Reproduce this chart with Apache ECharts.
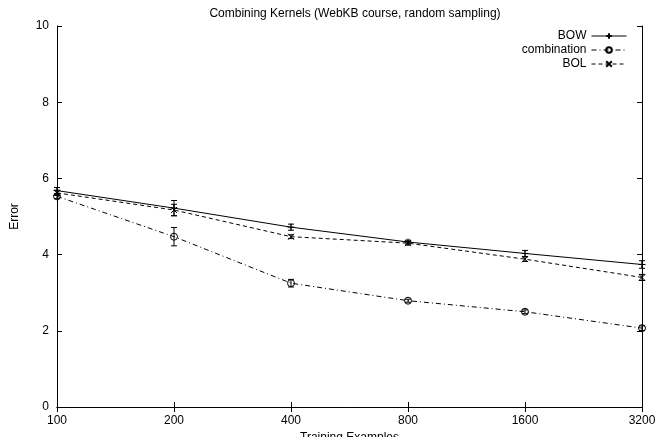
<!DOCTYPE html>
<html>
<head>
<meta charset="utf-8">
<script src="https://cdn.jsdelivr.net/npm/echarts@6/dist/echarts.min.js"></script>
<style>
html,body{margin:0;padding:0;background:#fff;}
#chart{width:656px;height:437px;}
</style>
</head>
<body>
<div id="chart"></div>
<script>
var categories = ['100', '200', '400', '800', '1600', '3200'];
var bow = [5.68, 5.22, 4.72, 4.33, 4.03, 3.74];
var bowErr = [0.08, 0.2, 0.08, 0.05, 0.08, 0.1];
var combination = [5.53, 4.47, 3.25, 2.79, 2.50, 2.07];
var combErr = [0.06, 0.24, 0.1, 0.04, 0.05, 0.06];
var bol = [5.62, 5.17, 4.47, 4.30, 3.88, 3.40];
var bolErr = [0.07, 0.15, 0.05, 0.05, 0.06, 0.08];
var yTicks = [0, 2, 4, 6, 8, 10];

var FONT = 'Liberation Sans, Arial, sans-serif';
var FS = 12;
var chart = echarts.init(document.getElementById('chart'), null, {renderer: 'canvas'});

function errData(vals, errs) {
  return vals.map(function (v, i) { return [i, v - errs[i], v + errs[i]]; });
}
function errSeries(name, vals, errs) {
  return {
    name: name,
    type: 'custom',
    silent: true,
    z: 3,
    renderItem: function (params, api) {
      var lo = api.coord([api.value(0), api.value(1)]);
      var hi = api.coord([api.value(0), api.value(2)]);
      var w = 3;
      var st = {stroke: '#000', lineWidth: 1, fill: null};
      return {
        type: 'group',
        children: [
          {type: 'line', shape: {x1: lo[0], y1: lo[1], x2: hi[0], y2: hi[1]}, style: st},
          {type: 'line', shape: {x1: lo[0] - w, y1: lo[1], x2: lo[0] + w, y2: lo[1]}, style: st},
          {type: 'line', shape: {x1: hi[0] - w, y1: hi[1], x2: hi[0] + w, y2: hi[1]}, style: st}
        ]
      };
    },
    data: errData(vals, errs)
  };
}

var plusPath = 'path://M0 5L10 5M5 0L5 10';
var crossPath = 'path://M0 0L10 10M10 0L0 10';

var option = {
  animation: false,
  backgroundColor: '#fff',
  title: {
    text: 'Combining Kernels (WebKB course, random sampling)',
    left: 350, top: 3, textAlign: 'center',
    textStyle: {fontFamily: FONT, fontSize: FS, fontWeight: 'normal', color: '#000'}
  },
  legend: {
    orient: 'vertical',
    right: 24, top: 24,
    align: 'right',
    itemWidth: 35, itemHeight: 7, itemGap: 0,
    data: ['BOW', 'combination', 'BOL'],
    lineStyle: {width: 1},
    textStyle: {fontFamily: FONT, fontSize: FS, color: '#000', lineHeight: 14}
  },
  grid: {left: 57, right: 14, top: 26, bottom: 30, containLabel: false, outerBoundsMode: 'none'},
  xAxis: [{
    type: 'category', data: categories, boundaryGap: false, position: 'bottom',
    name: 'Training Examples', nameLocation: 'middle', nameGap: 20,
    nameTextStyle: {fontFamily: FONT, fontSize: FS, color: '#000'},
    axisLine: {lineStyle: {color: '#000', width: 1}},
    axisTick: {inside: true, length: 5, lineStyle: {color: '#000'}},
    axisLabel: {fontFamily: FONT, fontSize: FS, color: '#000', margin: 8, interval: 0},
    splitLine: {show: false}
  }, {
    type: 'category', data: categories, boundaryGap: false, position: 'top',
    axisLine: {lineStyle: {color: '#000', width: 1}},
    axisTick: {inside: true, length: 5, lineStyle: {color: '#000'}},
    axisLabel: {show: false},
    splitLine: {show: false}
  }],
  yAxis: [{
    type: 'value', min: 0, max: 10, interval: 2, position: 'left',
    name: 'Error', nameLocation: 'middle', nameGap: 36, nameRotate: 90,
    nameTextStyle: {fontFamily: FONT, fontSize: FS, color: '#000'},
    axisLine: {show: true, lineStyle: {color: '#000', width: 1}},
    axisTick: {show: true, inside: true, length: 5, lineStyle: {color: '#000'}},
    axisLabel: {fontFamily: FONT, fontSize: FS, color: '#000', margin: 8,
      formatter: function (v) { return yTicks.indexOf(v) >= 0 ? String(v) : ''; }},
    splitLine: {show: false}
  }, {
    type: 'value', min: 0, max: 10, interval: 2, position: 'right',
    axisLine: {show: true, lineStyle: {color: '#000', width: 1}},
    axisTick: {show: true, inside: true, length: 5, lineStyle: {color: '#000'}},
    axisLabel: {show: false},
    splitLine: {show: false}
  }],
  series: [
    {
      name: 'BOW', type: 'line', data: bow, xAxisIndex: 0, yAxisIndex: 0,
      symbol: plusPath, symbolSize: 7, showAllSymbol: true,
      lineStyle: {color: '#000', width: 1, type: 'solid'},
      itemStyle: {color: 'rgba(0,0,0,0)', borderColor: '#000', borderWidth: 1},
      z: 4
    },
    {
      name: 'combination', type: 'line', data: combination,
      symbol: 'circle', symbolSize: 7, showAllSymbol: true,
      lineStyle: {color: '#000', width: 1, type: [5, 3, 1, 3]},
      itemStyle: {color: 'rgba(0,0,0,0)', borderColor: '#000', borderWidth: 1},
      z: 4
    },
    {
      name: 'BOL', type: 'line', data: bol,
      symbol: crossPath, symbolSize: 6, showAllSymbol: true,
      lineStyle: {color: '#000', width: 1, type: [4, 3]},
      itemStyle: {color: 'rgba(0,0,0,0)', borderColor: '#000', borderWidth: 1},
      z: 4
    },
    errSeries('BOW err', bow, bowErr),
    errSeries('combination err', combination, combErr),
    errSeries('BOL err', bol, bolErr)
  ]
};
chart.setOption(option);
</script>
</body>
</html>
